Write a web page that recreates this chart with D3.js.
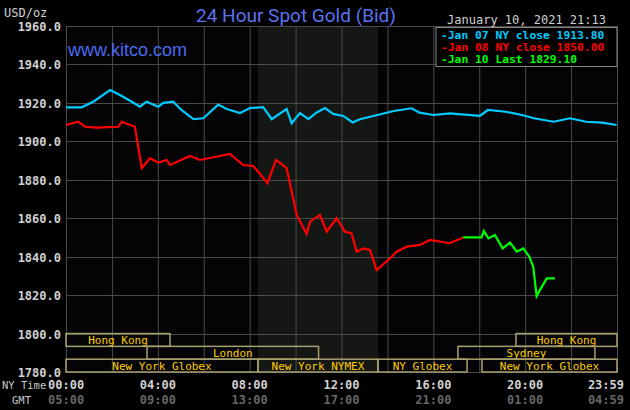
<!DOCTYPE html>
<html><head><meta charset="utf-8">
<script src="https://cdn.jsdelivr.net/npm/d3@7"></script>
<style>body{margin:0;background:#000}svg{display:block}</style></head>
<body><svg id="c" width="630" height="410"></svg>
<script>
const yTicks=[1960,1940,1920,1900,1880,1860,1840,1820,1800,1780];
const xTickHours=[0,4,8,12,16,20,23.983];
const nyLabels=["00:00","04:00","08:00","12:00","16:00","20:00","23:59"];
const gmtLabels=["05:00","09:00","13:00","17:00","21:00","01:00","04:59"];
const jan07=[[0,1917.7],[0.68,1917.7],[1.19,1920.6],[1.92,1926.7],[2.35,1924.1],[2.79,1921.1],[3.22,1918],[3.51,1920.6],[4.02,1918],[4.24,1920],[4.67,1920.6],[5.04,1916.2],[5.55,1911.5],[5.98,1912],[6.63,1919.1],[7.0,1916.8],[7.58,1914.7],[8.01,1917.3],[8.59,1917.8],[8.96,1911.5],[9.61,1916.8],[9.83,1909.4],[10.19,1914.7],[10.56,1911.5],[10.92,1915],[11.28,1917.3],[11.64,1914.3],[12.08,1913.2],[12.49,1909.8],[12.8,1911.5],[13.57,1913.7],[14.27,1915.8],[15.05,1917.2],[15.4,1914.9],[16.0,1913.7],[16.72,1914.5],[18.03,1913.3],[18.38,1916.3],[19.16,1915.4],[19.86,1913.7],[20.38,1912],[21.25,1910.2],[21.95,1912],[22.65,1910.2],[23.35,1909.7],[23.98,1908.5]];
const jan08=[[0,1908.5],[0.54,1910.2],[0.83,1907.6],[1.34,1907.1],[2.28,1907.6],[2.43,1910.2],[3.0,1907.6],[3.3,1886],[3.66,1891.2],[4.02,1888.9],[4.39,1890.3],[4.53,1887.7],[5.4,1892.4],[5.84,1890.3],[6.42,1891.7],[7.14,1893.4],[7.72,1887.7],[8.16,1887.2],[8.52,1882],[8.77,1878.2],[9.15,1890.3],[9.61,1886],[10.05,1861.7],[10.48,1851.8],[10.63,1858.2],[11.06,1861.7],[11.35,1853],[11.79,1860],[12.15,1853],[12.44,1852.1],[12.66,1842.6],[12.95,1844.3],[13.24,1843.5],[13.53,1833],[14.04,1838.3],[14.4,1842.6],[14.84,1845.2],[15.42,1846.1],[15.85,1848.7],[16.72,1847],[17.3,1850]];
const jan10=[[17.3,1850],[18.1,1850],[18.2,1853.3],[18.4,1849.5],[18.68,1851.3],[19.02,1844.3],[19.34,1847.3],[19.63,1842.6],[19.92,1844.3],[20.18,1840],[20.35,1834.8],[20.5,1819.5],[20.64,1822.6],[20.94,1828.7],[21.3,1828.7]];
const legendItems=[["Jan 07 NY close 1913.80","#00ccff"],["Jan 08 NY close 1850.00","#ff0000"],["Jan 10 Last 1829.10","#00ff00"]];
const sessions=[["Hong Kong",0,0,4.53],["Hong Kong",0,19.6,24],["London",1,3.53,11.0],["Sydney",1,17.07,23.04],["New York Globex",2,0,8.36],["New York NYMEX",2,8.36,13.59],["NY Globex",2,13.59,17.47],["New York Globex",2,18.12,24]];
const nymex=[8.36,13.59];

const svg=d3.select("#c");
const L=66,R=617,T=26,B=372;
const x=d3.scaleLinear().domain([0,24]).range([L,R]);
const y=d3.scaleLinear().domain([1780,1960]).range([B,T]);
const mono="DejaVu Sans Mono, monospace";
svg.append("rect").attr("width",630).attr("height",410).attr("fill","#000");
svg.append("rect").attr("x",L).attr("y",T).attr("width",R-L).attr("height",B-T).attr("fill","#040406");
svg.append("rect").attr("x",x(nymex[0])).attr("y",T).attr("width",x(nymex[1])-x(nymex[0])).attr("height",B-T).attr("fill","#141714");
const g=svg.append("g").attr("stroke","#4a4a4a").attr("stroke-width",1);
d3.range(0,25,2).forEach(h=>g.append("line").attr("x1",x(h)+0.5).attr("x2",x(h)+0.5).attr("y1",T).attr("y2",B));
yTicks.forEach(v=>g.append("line").attr("x1",L).attr("x2",R).attr("y1",Math.round(y(v))+0.5).attr("y2",Math.round(y(v))+0.5));
svg.append("rect").attr("x",L+0.5).attr("y",T+0.5).attr("width",R-L).attr("height",B-T).attr("fill","none").attr("stroke","#4a4a4a");
yTicks.forEach(v=>svg.append("text").attr("x",61).attr("y",y(v)+5).attr("text-anchor","end").attr("fill","#d0d0d0").attr("font-family",mono).attr("font-size",12).attr("font-weight","bold").text(v.toFixed(1)));
svg.append("text").attr("x",4).attr("y",17).attr("fill","#d0d0d0").attr("font-family",mono).attr("font-size",12).text("USD/oz");
const rowH=(y(1780)-y(1800))/3;
sessions.forEach(s=>{
  const y0=y(1800)+s[1]*rowH;
  svg.append("rect").attr("x",x(s[2])).attr("y",y0).attr("width",x(s[3])-x(s[2])).attr("height",rowH).attr("fill","none").attr("stroke","#a8a070").attr("stroke-width",1.5);
  svg.append("text").attr("x",(x(s[2])+x(s[3]))/2).attr("y",y0+rowH-2.5).attr("text-anchor","middle").attr("fill","#ffcc00").attr("font-family",mono).attr("font-size",11).text(s[0]);
});
const line=d3.line().x(d=>x(d[0])).y(d=>y(d[1]));
[[jan07,"#00ccff"],[jan08,"#ff0000"],[jan10,"#00ff00"]].forEach(([d,c])=>svg.append("path").datum(d).attr("d",line).attr("fill","none").attr("stroke",c).attr("stroke-width",2.2));
xTickHours.forEach((h,i)=>{
  const last=i==xTickHours.length-1;
  const a=i==0?"start":(last?"end":"middle");
  const xx=i==0?48:(last?624:x(h));
  svg.append("text").attr("x",xx).attr("y",389).attr("text-anchor",a).attr("fill","#d0d0d0").attr("font-family",mono).attr("font-size",12).attr("font-weight","bold").text(nyLabels[i]);
  svg.append("text").attr("x",xx).attr("y",404).attr("text-anchor",a).attr("fill","#666").attr("font-family",mono).attr("font-size",12).attr("font-weight","bold").text(gmtLabels[i]);
});
svg.append("text").attr("x",2).attr("y",389).attr("fill","#c8c8c8").attr("font-family",mono).attr("font-size",10.5).text("NY Time");
svg.append("text").attr("x",12).attr("y",404).attr("fill","#c8c8c8").attr("font-family",mono).attr("font-size",10.5).text("GMT");
svg.append("text").attr("x",296).attr("y",22).attr("text-anchor","middle").attr("fill","#5a72f0").attr("font-family","Roboto, sans-serif").attr("font-size",19).text("24 Hour Spot Gold (Bid)");
svg.append("text").attr("x",606).attr("y",24).attr("text-anchor","end").attr("fill","#d0d0d0").attr("font-family",mono).attr("font-size",12).text("January 10, 2021 21:13");
svg.append("text").attr("x",68).attr("y",56).attr("fill","#4a6cf0").attr("font-family","Liberation Sans, sans-serif").attr("font-size",18).text("www.kitco.com");
svg.append("rect").attr("x",436).attr("y",27.5).attr("width",181).attr("height",39).attr("fill","#000").attr("stroke","#888");
legendItems.forEach((it,i)=>svg.append("text").attr("x",441).attr("y",39+i*12).attr("fill",it[1]).attr("font-family",mono).attr("font-size",11.3).attr("font-weight","bold").text("-"+it[0]));
</script></body></html>
